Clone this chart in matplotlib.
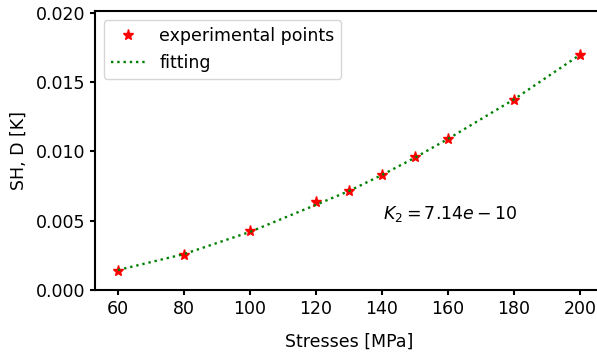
import numpy as np
import matplotlib
matplotlib.use("Agg")
import matplotlib.pyplot as plt

# experimental data
stresses = [60, 80, 100, 120, 130, 140, 150, 160, 180, 200]
sh_d = [0.00139, 0.00255, 0.00423, 0.00633, 0.00715, 0.00833, 0.00958, 0.01093, 0.01374, 0.01696]
# fitted curve values at the same stresses
fit_vals = [0.00145, 0.00260, 0.00420, 0.00615, 0.00715, 0.00830, 0.00955, 0.01090, 0.01375, 0.01696]
k2_label = r'$K_2 = 7.14e-10$'

plt.rcParams['font.size'] = 12.5
plt.rcParams['axes.linewidth'] = 1.5
plt.rcParams['xtick.major.width'] = 1.5
plt.rcParams['ytick.major.width'] = 1.5

fig = plt.figure(figsize=(5.97, 3.53), dpi=100)
ax = fig.add_axes([0.159, 0.178, 0.851, 0.790])

ax.plot(stresses, sh_d, '*', color='r', markersize=8, label='experimental points')
ax.plot(stresses, fit_vals, ':', color='g', linewidth=1.7, label='fitting')

ax.text(140.3, 0.0051, k2_label, fontsize=12.5)

ax.set_xlim(53, 207)
ax.set_ylim(0, 0.0201)
ax.set_xticks([60, 80, 100, 120, 140, 160, 180, 200])
ax.set_yticks([0.0, 0.005, 0.010, 0.015, 0.020])
ax.set_yticklabels(['0.000', '0.005', '0.010', '0.015', '0.020'])
ax.set_xlabel('Stresses [MPa]', labelpad=11)
ax.set_ylabel('SH, D [K]', labelpad=6)
ax.spines['right'].set_visible(False)
ax.legend(loc='upper left')

fig.savefig('out.png', dpi=100)
